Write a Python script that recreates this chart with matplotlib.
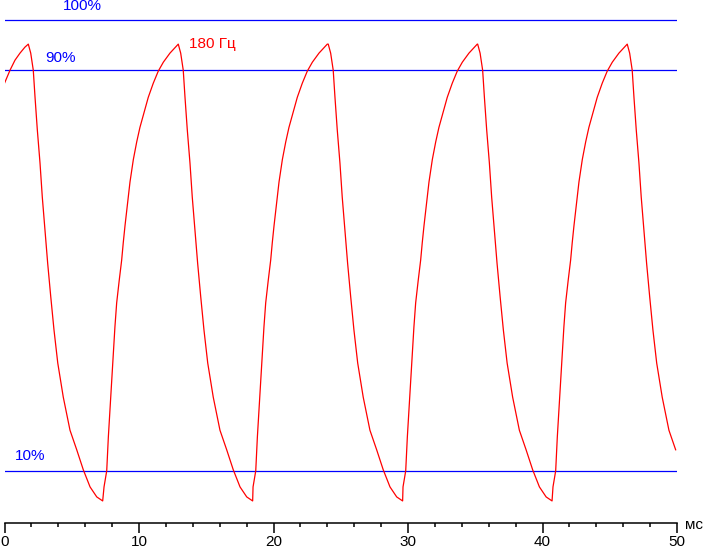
import numpy as np
import matplotlib
matplotlib.use('Agg')
import matplotlib.pyplot as plt

# shape of one falling edge (ms after the peak, % level)
fall_dt = [0.0, 0.18, 0.37, 0.50, 0.67, 0.87, 1.04, 1.24, 1.44, 1.67, 1.91,
           2.19, 2.60, 3.10, 3.60, 4.09, 4.59, 5.09, 5.53]
fall_lvl = [95.2, 93.4, 90.0, 84.6, 78.1, 71.5, 64.7, 58.1, 51.5, 44.8, 38.2,
            31.6, 24.8, 18.2, 14.3, 10.3, 6.9, 4.9, 4.1]

# shape of one rising edge (ms after the minimum, % level)
rise_dt = [0.0, 0.10, 0.30, 0.42, 0.54, 0.67, 0.79, 0.91, 1.04, 1.23, 1.41,
           1.53, 1.66, 1.83, 2.03, 2.28, 2.53, 2.77, 3.02, 3.39, 3.76, 4.13,
           4.51, 5.00, 5.62]
rise_lvl = [4.1, 6.9, 10.1, 16.8, 22.2, 28.2, 33.6, 38.8, 43.6, 48.1, 52.1,
            55.6, 59.0, 63.0, 67.7, 72.2, 75.7, 78.6, 81.0, 84.6, 87.4, 89.8,
            91.6, 93.4, 95.2]

# start of the trace before the first peak
lead_t = [0.0, 0.41, 0.78, 1.15, 1.52]
lead_lvl = [87.4, 90.0, 92.0, 93.4, 94.6]

peak_times = [1.77, 12.92, 24.07, 35.18, 46.30]
min_times = [7.30, 18.38, 29.53, 40.68]

ref_levels = [100, 90, 10]
ref_labels = ['100%', '90%', '10%']

# assemble the trace
t = list(lead_t)
y = list(lead_lvl)
for i, tp in enumerate(peak_times):
    for dt, lv in zip(fall_dt, fall_lvl):
        if tp + dt <= 50:
            t.append(tp + dt)
            y.append(lv)
    if i < len(min_times):
        tm = min_times[i]
        for dt, lv in zip(rise_dt[1:], rise_lvl[1:]):
            t.append(tm + dt)
            y.append(lv)
t = np.array(t)
y = np.array(y)

plt.rcParams['font.family'] = ['Liberation Sans', 'DejaVu Sans']

fig = plt.figure(figsize=(7.03, 5.50), dpi=100)
ax = fig.add_axes([4.5 / 703, 27 / 550, 672.5 / 703, 523 / 550])

for lv in ref_levels:
    ax.axhline(lv, color='#0000ff', lw=0.9)

ax.plot(t, y, color='#ff0000', lw=0.9)

# labels
ax.text(5.76, 102.8, ref_labels[0], color='#0000ff', fontsize=11, ha='center', va='center')
ax.text(4.20, 92.4, ref_labels[1], color='#0000ff', fontsize=11, ha='center', va='center')
ax.text(1.90, 13.06, ref_labels[2], color='#0000ff', fontsize=11, ha='center', va='center')
ax.text(15.46, 95.3, '180 Гц', color='#ff0000', fontsize=11, ha='center', va='center')
ax.text(50.6, -0.6, 'мс', color='black', fontsize=11, ha='left', va='center', clip_on=False)

ax.set_xlim(0, 50)
ax.set_ylim(-0.3, 104.0)

for side in ['top', 'right', 'left']:
    ax.spines[side].set_visible(False)
ax.spines['bottom'].set_linewidth(1.1)
ax.set_yticks([])
ax.set_xticks(np.arange(0, 51, 10))
ax.set_xticks(np.arange(0, 51, 2), minor=True)
ax.tick_params(axis='x', which='major', length=7.2, width=1.1, labelsize=11, pad=1.5)
ax.tick_params(axis='x', which='minor', length=3, width=1.1)

fig.savefig('out.png', dpi=100)
